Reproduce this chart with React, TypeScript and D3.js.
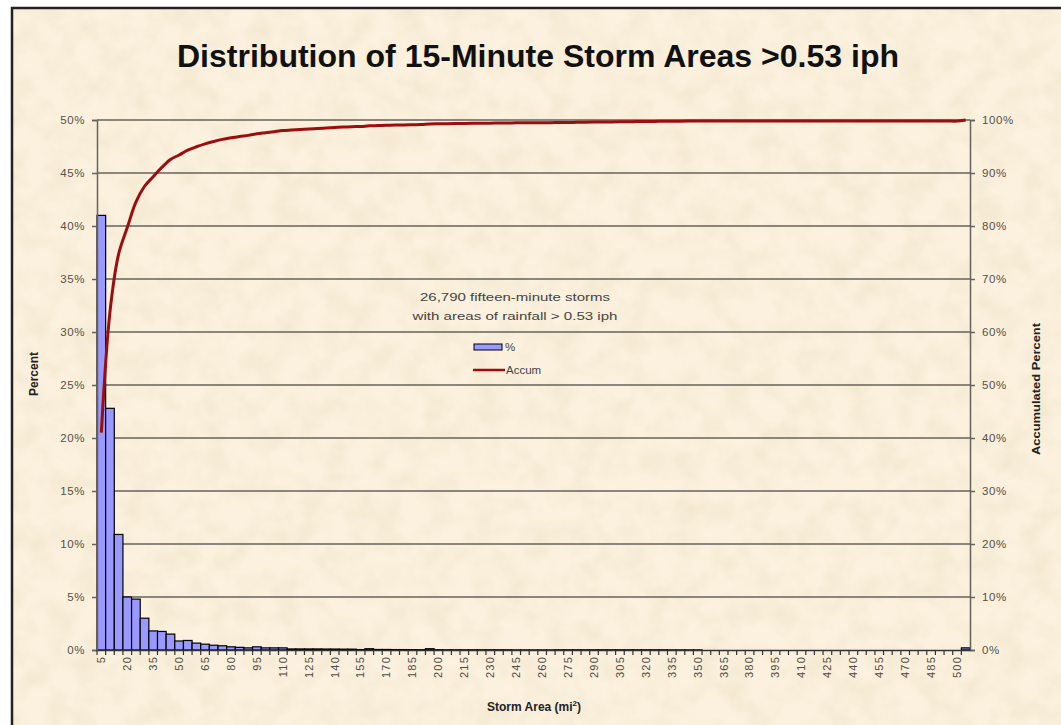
import React, { useEffect, useRef } from 'react';
import * as d3 from 'd3';

const W = 1061;
const H = 725;
const plot = { left: 97, right: 970, top: 120, bottom: 650 };

// storm area classes (mi²), 5 .. 505
const categories: number[] = d3.range(5, 510, 5);

// percent of storms in each area class
const pct: number[] = [
  41.0, 22.8, 10.9, 5.0, 4.8, 3.0, 1.8, 1.75, 1.5, 0.85,
  0.9, 0.65, 0.55, 0.45, 0.4, 0.3, 0.25, 0.2, 0.3, 0.2,
  0.2, 0.2, 0.1, 0.1, 0.1, 0.1, 0.09, 0.09, 0.08, 0.08,
  0.04, 0.12, 0.05, 0.05, 0.04, 0.04, 0.03, 0.03, 0.12, 0.03,
  0.02, 0.02, 0.02, 0.02, 0.02, 0.02, 0.02, 0.02, 0.01, 0.01,
  0.01, 0.01, 0.01, 0.02, 0.02, 0.02, 0.02, 0.02, 0.02, 0.02,
  0.02, 0.02, 0.02, 0.02, 0.02, 0.02, 0.01, 0.01, 0.01, 0.01,
  0, 0, 0, 0, 0, 0, 0, 0, 0, 0,
  0, 0, 0, 0, 0, 0, 0, 0, 0, 0,
  0, 0, 0, 0, 0, 0, 0, 0, 0, 0,
  0.2,
];

const leftTicks = [0, 0.05, 0.1, 0.15, 0.2, 0.25, 0.3, 0.35, 0.4, 0.45, 0.5];
const rightTicks = [0, 0.1, 0.2, 0.3, 0.4, 0.5, 0.6, 0.7, 0.8, 0.9, 1];
const xLabels = categories.filter((d, i) => i % 3 === 0 && d <= 500);

const FONT = '"Liberation Sans", Arial, sans-serif';

export default function App() {
  const ref = useRef<SVGGElement>(null);

  useEffect(() => {
    const g = d3.select(ref.current);
    g.selectAll('*').remove();

    const x = d3.scaleBand<number>()
      .domain(categories)
      .range([plot.left, plot.right])
      .padding(0);
    const yL = d3.scaleLinear().domain([0, 0.5]).range([plot.bottom, plot.top]);
    const yR = d3.scaleLinear().domain([0, 1]).range([plot.bottom, plot.top]);

    // gridlines
    g.append('g')
      .selectAll('line')
      .data(leftTicks.slice(1))
      .join('line')
      .attr('x1', plot.left).attr('x2', plot.right)
      .attr('y1', d => yL(d)).attr('y2', d => yL(d))
      .attr('stroke', '#66625c').attr('stroke-width', 1.5);

    // bars
    g.append('g')
      .selectAll('rect')
      .data(categories)
      .join('rect')
      .attr('x', d => x(d)!)
      .attr('width', x.bandwidth())
      .attr('y', (d, i) => yL(pct[i] / 100))
      .attr('height', (d, i) => plot.bottom - yL(pct[i] / 100))
      .attr('fill', '#9999ff')
      .attr('stroke', '#000')
      .attr('stroke-width', (d, i) => (pct[i] > 0 ? 1.2 : 0));

    // accumulated line (smoothed like the spreadsheet)
    const accum = Array.from(d3.cumsum(pct), v => Math.min(v / 100, 1));
    const line = d3.line<number>()
      .x((d, i) => x(categories[i])! + x.bandwidth() / 2)
      .y(d => yR(d))
      .curve(d3.curveCatmullRom.alpha(0.5));
    g.append('path')
      .datum(accum)
      .attr('d', line)
      .attr('fill', 'none')
      .attr('stroke', '#9c0d0d')
      .attr('stroke-width', 3);

    // left axis
    const axL = d3.axisLeft(yL).tickValues(leftTicks).tickFormat(d3.format('.0%')).tickSize(5).tickPadding(7);
    const gl = g.append('g').attr('transform', `translate(${plot.left},0)`).call(axL);
    // right axis
    const axR = d3.axisRight(yR).tickValues(rightTicks).tickFormat(d3.format('.0%')).tickSize(5).tickPadding(7);
    const gr = g.append('g').attr('transform', `translate(${plot.right},0)`).call(axR);
    // bottom axis
    const axB = d3.axisBottom(x).tickValues(xLabels).tickSize(0).tickPadding(6);
    const gb = g.append('g').attr('transform', `translate(0,${plot.bottom})`).call(axB);

    [gl, gr].forEach(a => {
      a.select('.domain').attr('stroke', '#66625c').attr('stroke-width', 1.5);
      a.selectAll('.tick line').attr('stroke', '#66625c').attr('stroke-width', 1.5);
      a.selectAll('text')
        .attr('font-family', FONT).attr('font-size', 11.5).attr('fill', '#55514b')
        .attr('letter-spacing', 0.6);
    });
    gb.select('.domain').attr('stroke', '#333').attr('stroke-width', 1.5);
    gb.selectAll('.tick text')
      .attr('font-family', FONT).attr('font-size', 11).attr('fill', '#4f4c46')
      .attr('letter-spacing', 1.2)
      .attr('transform', 'rotate(-90)')
      .attr('text-anchor', 'end')
      .attr('x', -6).attr('y', 0).attr('dy', '0.35em');

    // tick marks at every category boundary
    g.append('g')
      .selectAll('line')
      .data(categories)
      .join('line')
      .attr('x1', d => x(d)!).attr('x2', d => x(d)!)
      .attr('y1', plot.bottom).attr('y2', plot.bottom + 5)
      .attr('stroke', '#333').attr('stroke-width', 1.2);
  }, []);

  return (
    <svg width={W} height={H} style={{ position: 'absolute', left: 0, top: 0 }}>
      <defs>
        <filter id="paper" x="0" y="0" width="100%" height="100%">
          <feTurbulence type="fractalNoise" baseFrequency="0.04" numOctaves="3" seed="7" />
          <feColorMatrix type="matrix" values="0 0 0 0 0.85  0 0 0 0 0.75  0 0 0 0 0.56  1 0 0 0 -0.36" />
        </filter>
      </defs>
      <rect width={W} height={H} fill="#fff" />
      <rect x={12} y={8} width={W} height={H} fill="#fbf1de" />
      <rect x={12} y={8} width={W} height={H} filter="url(#paper)" />
      <rect x={12} y={8} width={W + 10} height={H + 10} fill="none" stroke="#222" strokeWidth={2.5} />

      <text x={538} y={67} textAnchor="middle" fontFamily={FONT} fontWeight="bold" fontSize={31}
        textLength={722} lengthAdjust="spacingAndGlyphs" fill="#111">
        Distribution of 15-Minute Storm Areas &gt;0.53 iph
      </text>

      <g ref={ref} />

      <text transform="translate(38,374) rotate(-90)" textAnchor="middle" fontFamily={FONT}
        fontWeight="bold" fontSize={12} fill="#222">Percent</text>
      <text transform="translate(1040,389) rotate(-90)" textAnchor="middle" fontFamily={FONT}
        fontWeight="bold" fontSize={11} textLength={132} lengthAdjust="spacingAndGlyphs" fill="#222">
        Accumulated Percent
      </text>
      <text x={534} y={711} textAnchor="middle" fontFamily={FONT} fontWeight="bold" fontSize={12} fill="#222">
        Storm Area (mi<tspan dy={-5} fontSize={8}>2</tspan><tspan dy={5}>)</tspan>
      </text>

      <text x={515} y={301} textAnchor="middle" fontFamily={FONT} fontSize={11.5} fill="#444"
        textLength={190} lengthAdjust="spacingAndGlyphs">26,790 fifteen-minute storms</text>
      <text x={515} y={320} textAnchor="middle" fontFamily={FONT} fontSize={11.5} fill="#444"
        textLength={205} lengthAdjust="spacingAndGlyphs">with areas of rainfall &gt; 0.53 iph</text>

      <rect x={474} y={344} width={28} height={6} fill="#9999ff" stroke="#000" strokeWidth={1} />
      <text x={505} y={351} fontFamily={FONT} fontSize={11.5} fill="#444">%</text>
      <line x1={473} x2={505} y1={370} y2={370} stroke="#9c0d0d" strokeWidth={2.5} />
      <text x={506} y={374} fontFamily={FONT} fontSize={11.5} fill="#444">Accum</text>
    </svg>
  );
}
